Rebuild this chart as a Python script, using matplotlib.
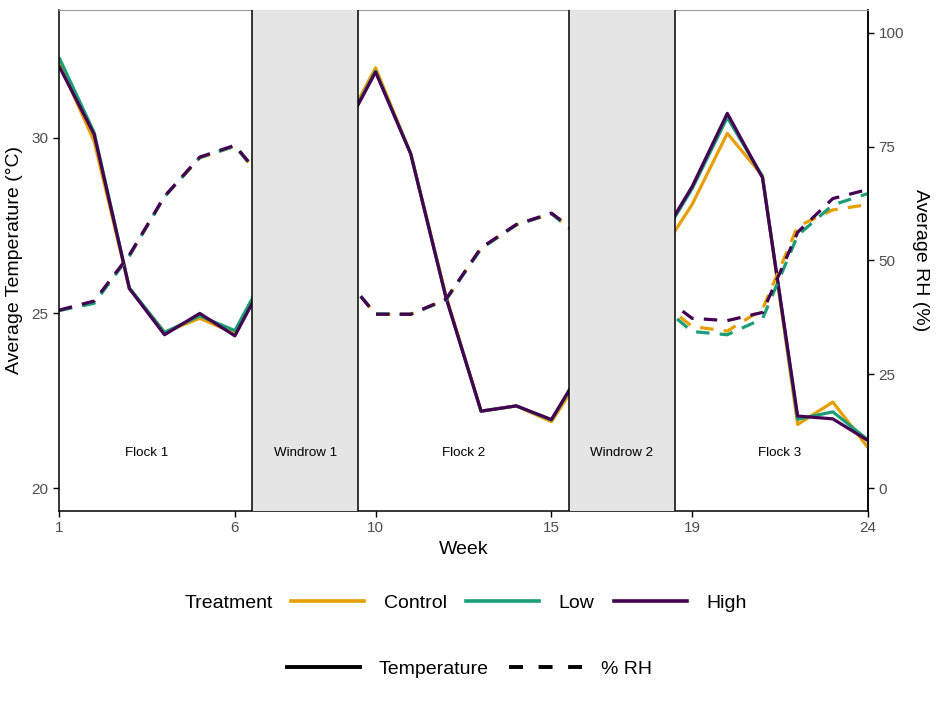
import numpy as np
import matplotlib
matplotlib.use("Agg")
import matplotlib.pyplot as plt
from matplotlib.lines import Line2D
from matplotlib.patches import Rectangle

plt.rcParams['font.family'] = ['Liberation Sans', 'DejaVu Sans']

# weeks with data (windrow weeks have none; lines run straight across them)
weeks = [1, 2, 3, 4, 5, 6, 10, 11, 12, 13, 14, 15, 19, 20, 21, 22, 23, 24]

temp_control = [32.15, 29.9, 25.7, 24.45, 24.85, 24.42, 32.0, 29.55, 25.5, 22.2, 22.35, 21.9,
                28.1, 30.13, 28.92, 21.82, 22.46, 21.16]
temp_low = [32.3, 30.15, 25.72, 24.45, 24.92, 24.5, 31.9, 29.55, 25.45, 22.2, 22.35, 21.95,
            28.55, 30.58, 28.9, 21.97, 22.18, 21.38]
temp_high = [32.05, 30.1, 25.7, 24.38, 24.99, 24.35, 31.88, 29.54, 25.45, 22.2, 22.35, 21.96,
             28.61, 30.7, 28.86, 22.06, 21.98, 21.36]

rh_control = [39.0, 41.0, 51.0, 64.0, 72.5, 75.1, 38.2, 38.2, 41.4, 52.7, 57.8, 60.3,
              35.5, 34.5, 39.3, 57.5, 61.1, 62.3]
rh_low = [39.0, 40.6, 51.0, 64.0, 72.6, 75.1, 38.3, 38.2, 41.3, 52.6, 57.8, 60.3,
          34.4, 33.7, 37.2, 55.5, 62.2, 64.7]
rh_high = [39.1, 41.1, 51.2, 64.1, 72.7, 75.3, 38.2, 38.2, 41.5, 52.8, 57.9, 60.4,
           37.3, 36.8, 38.6, 56.2, 63.6, 65.6]

treatments = ['Control', 'Low', 'High']
colors = {'Control': '#E69F00', 'Low': '#1B9E77', 'High': '#440154'}

windows = [(6.5, 9.5, 'Windrow 1'), (15.5, 18.5, 'Windrow 2')]
flock_labels = [(3.5, 'Flock 1'), (12.5, 'Flock 2'), (21.5, 'Flock 3')]
x_ticks = [1, 6, 10, 15, 19, 24]

# secondary axis: RH = (T - 20) / 0.13
def t_to_rh(t):
    return (t - 20) / 0.13

def rh_to_t(r):
    return 20 + 0.13 * np.asarray(r)

fig = plt.figure(figsize=(9.36, 7.02), dpi=100)
ax = fig.add_axes([59 / 936, 1 - 511 / 702, (868 - 59) / 936, (511 - 10) / 702])

temps = {'Control': temp_control, 'Low': temp_low, 'High': temp_high}
rhs = {'Control': rh_control, 'Low': rh_low, 'High': rh_high}

for t in treatments:
    ax.plot(weeks, temps[t], color=colors[t], lw=2.3, solid_capstyle='butt', zorder=2)
for t in treatments:
    ax.plot(weeks, rh_to_t(rhs[t]), color=colors[t], lw=2.3, dashes=(4.2, 3.2), zorder=2)

# windrow periods cover the lines
for x0, x1, lab in windows:
    ax.add_patch(Rectangle((x0, 19.0), x1 - x0, 15.0, facecolor='#E5E5E5', edgecolor='none', zorder=3))
    ax.axvline(x0, color='black', lw=1.1, zorder=4)
    ax.axvline(x1, color='black', lw=1.1, zorder=4)
    ax.text((x0 + x1) / 2, 21.0, lab, ha='center', va='center', fontsize=9.6, zorder=5)
for xc, lab in flock_labels:
    ax.text(xc, 21.0, lab, ha='center', va='center', fontsize=9.6, zorder=5)

ax.set_xlim(1, 24)
ax.set_ylim(19.35, 33.65)
ax.set_xticks(x_ticks)
ax.set_yticks([20, 25, 30])
ax.tick_params(direction='out', length=4, width=1.0, color='black', labelcolor='#4D4D4D', labelsize=11)
ax.set_xlabel('Week', fontsize=14, labelpad=4)
ax.set_ylabel('Average Temperature (°C)', fontsize=14, labelpad=6)
for s in ['left', 'bottom', 'right']:
    ax.spines[s].set_color('black')
    ax.spines[s].set_linewidth(1.1)
ax.spines['top'].set_color('#999999')
ax.spines['top'].set_linewidth(0.8)

sec = ax.secondary_yaxis('right', functions=(t_to_rh, rh_to_t))
sec.set_yticks([0, 25, 50, 75, 100])
sec.tick_params(direction='out', length=4, width=1.0, color='black', labelcolor='#4D4D4D', labelsize=11)
sec.spines['right'].set_linewidth(1.1)
sec.set_ylabel('Average RH (%)', fontsize=14, rotation=270, labelpad=18)

# legends
h1 = [Line2D([], [], color=colors[t], lw=2.6) for t in treatments]
fig.legend(h1, treatments, loc='center', bbox_to_anchor=(0.5545, 1 - 603 / 702), ncol=3,
           frameon=False, fontsize=14, handlelength=3.76, handletextpad=1.0, columnspacing=1.0)
fig.text(185 / 936, 1 - 603 / 702, 'Treatment', ha='left', va='center', fontsize=14)

h2 = [Line2D([], [], color='black', lw=2.8),
      Line2D([], [], color='black', lw=2.8, dashes=(3.6, 4.0))]
fig.legend(h2, ['Temperature', '% RH'], loc='center', bbox_to_anchor=(0.5014, 1 - 669 / 702), ncol=2,
           frameon=False, fontsize=14, handlelength=3.76, handletextpad=1.0, columnspacing=1.0)

fig.savefig('out.png', dpi=100)
